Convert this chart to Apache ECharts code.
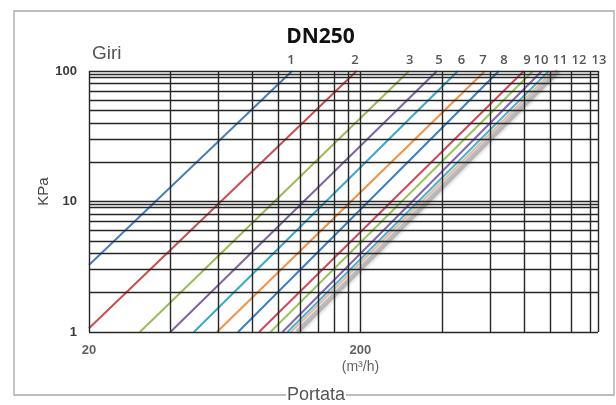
<!DOCTYPE html>
<html>
<head>
<meta charset="utf-8">
<script src="https://cdn.jsdelivr.net/npm/echarts@6/dist/echarts.min.js"></script>
<style>
  html, body { margin: 0; padding: 0; background: #fff; }
  #chart { width: 616px; height: 405px; }
</style>
</head>
<body>
<div id="chart"></div>
<script>
// Pressure drop vs flow for a DN250 valve, one curve per number of turns (log-log).
const turnNames = ['1', '2', '3', '4', '5', '6', '7', '8', '9', '10', '11', '12', '13'];
// start and end point of each curve: [flow m3/h, pressure kPa]
const curveFrom = [
  [20, 3.26], [20, 1.07], [30.8, 1], [39.9, 1], [48.7, 1], [59.2, 1], [70.8, 1],
  [84.6, 1], [93.2, 1], [103.2, 1], [107.7, 1], [110.9, 1], [116.7, 1]
];
const curveTo = [
  [112, 100], [193.6, 100], [301.8, 100], [382.6, 100], [457, 100], [575, 100], [647, 100],
  [800, 100], [864, 100], [932, 100], [989, 100], [1023, 100], [1068, 100]
];
const curveColors = [
  '#4a7ebb', '#c8504f', '#9bbb59', '#8064a2', '#3aa8c8', '#f39246', '#3d7fc4',
  '#d2485a', '#9cc45e', '#8464b4', '#47b4d4', '#e8b7a0', 'rgba(150,150,150,0.55)'
];

// turn labels along the top edge
const turnLabelText = ['1', '2', '3', '5', '6', '7', '8', '9', '10', '11', '12', '13'];
const turnLabelFlow = [111, 191, 304, 389, 471, 565, 676, 821, 924, 1086, 1276, 1512];

// axis scales
const flowMin = 20, flowMax = 1500;
const pressureMin = 1, pressureMax = 100;
const flowTickLabels = [20, 200];
const flowGrid = [20, 40, 60, 80, 100, 120, 140, 160, 180, 200, 400, 600, 800, 1000, 1200, 1400, 1500];
const pressureGrid = [1, 2, 3, 4, 5, 6, 7, 8, 9, 9.5, 10, 20, 30, 40, 50, 60, 70, 80, 90, 95, 100];

const chart = echarts.init(document.getElementById('chart'), null, { renderer: 'canvas' });

const gridLineStyle = { color: '#262626', width: 1.4, type: 'solid' };

const series = [];

// grid lines as mark lines on an empty series
series.push({
  type: 'line',
  name: 'grid',
  data: [],
  silent: true,
  z: 1,
  markLine: {
    silent: true,
    symbol: ['none', 'none'],
    label: { show: false },
    lineStyle: gridLineStyle,
    emphasis: { disabled: true },
    data: flowGrid.map(v => ({ xAxis: v }))
      .concat(pressureGrid.map(v => ({ yAxis: v })))
  }
});

// curves
turnNames.forEach((name, i) => {
  const last = i === turnNames.length - 1;
  series.push({
    type: 'line',
    name: name,
    data: [curveFrom[i], curveTo[i]],
    showSymbol: false,
    symbol: 'none',
    silent: true,
    z: last ? 3 : 4,
    lineStyle: last
      ? { color: curveColors[i], width: 5, shadowBlur: 3, shadowColor: 'rgba(120,120,120,0.5)', shadowOffsetX: 1, shadowOffsetY: 1 }
      : { color: curveColors[i], width: 2 }
  });
});

// turn labels above the top edge
series.push({
  type: 'scatter',
  name: 'turns',
  clip: false,
  silent: true,
  symbolSize: 0,
  itemStyle: { color: 'transparent' },
  z: 5,
  data: turnLabelText.map((t, i) => ({ value: [turnLabelFlow[i], pressureMax], name: t })),
  label: {
    show: true,
    position: 'top',
    distance: 4,
    formatter: p => p.name,
    fontFamily: 'Open Sans',
    fontWeight: 600,
    fontSize: 13,
    color: '#2b2b2b'
  }
});

// flow axis labels
series.push({
  type: 'scatter',
  name: 'flowLabels',
  clip: false,
  silent: true,
  symbolSize: 0,
  itemStyle: { color: 'transparent' },
  z: 5,
  data: flowTickLabels.map((v, i) => ({ value: [v, pressureMin], name: String(v), unit: i === flowTickLabels.length - 1 })),
  label: {
    show: true,
    position: 'bottom',
    distance: 10,
    formatter: p => p.data.unit ? '{n|' + p.name + '}\n{u|(m³/h)}' : '{n|' + p.name + '}',
    rich: {
      n: { fontFamily: 'Liberation Sans', fontWeight: 'bold', fontSize: 13, color: '#3a3a3a', lineHeight: 16, align: 'center' },
      u: { fontFamily: 'Liberation Sans', fontSize: 14, color: '#3a3a3a', lineHeight: 19, align: 'center' }
    }
  }
});

chart.setOption({
  animation: false,
  backgroundColor: '#fff',
  grid: { left: 89, right: 18, top: 71, bottom: 73, containLabel: false },
  xAxis: {
    type: 'log',
    logBase: 10,
    min: flowMin,
    max: flowMax,
    axisLine: { show: false },
    axisTick: { show: false },
    axisLabel: { show: false },
    splitLine: { show: false }
  },
  yAxis: {
    type: 'log',
    logBase: 10,
    min: pressureMin,
    max: pressureMax,
    name: 'KPa',
    nameLocation: 'middle',
    nameRotate: 90,
    nameGap: 38,
    nameMoveOverlap: false,
    nameTextStyle: { fontFamily: 'Liberation Sans', fontSize: 15, color: '#444', padding: [0, 0, 0, 20] },
    axisLine: { show: false },
    axisTick: { show: false },
    splitLine: { show: false },
    axisLabel: {
      margin: 12,
      fontFamily: 'Liberation Sans',
      fontWeight: 'bold',
      fontSize: 13,
      color: '#3a3a3a'
    }
  },
  graphic: [
    {
      type: 'rect',
      silent: true,
      z: 0,
      shape: { x: 14, y: 11, width: 600, height: 384 },
      style: { fill: 'none', stroke: '#a8a8a8', lineWidth: 1.3 }
    },
    {
      type: 'text',
      silent: true,
      z: 10,
      x: 320.5,
      y: 37.5,
      style: {
        text: 'DN250',
        fontFamily: 'Open Sans',
        fontWeight: 'bold',
        fontSize: 21,
        fill: '#111',
        align: 'center',
        verticalAlign: 'middle'
      }
    },
    {
      type: 'text',
      silent: true,
      z: 10,
      x: 92,
      y: 54,
      style: {
        text: 'Giri',
        fontFamily: 'Liberation Sans',
        fontSize: 19,
        fill: '#555',
        align: 'left',
        verticalAlign: 'middle'
      }
    },
    {
      type: 'text',
      silent: true,
      z: 10,
      x: 316,
      y: 395,
      style: {
        text: 'Portata',
        fontFamily: 'Liberation Sans',
        fontSize: 18,
        fill: '#555',
        align: 'center',
        verticalAlign: 'middle',
        backgroundColor: '#fff',
        padding: [0, 1, 0, 1]
      }
    }
  ],
  series: series
});
</script>
</body>
</html>
